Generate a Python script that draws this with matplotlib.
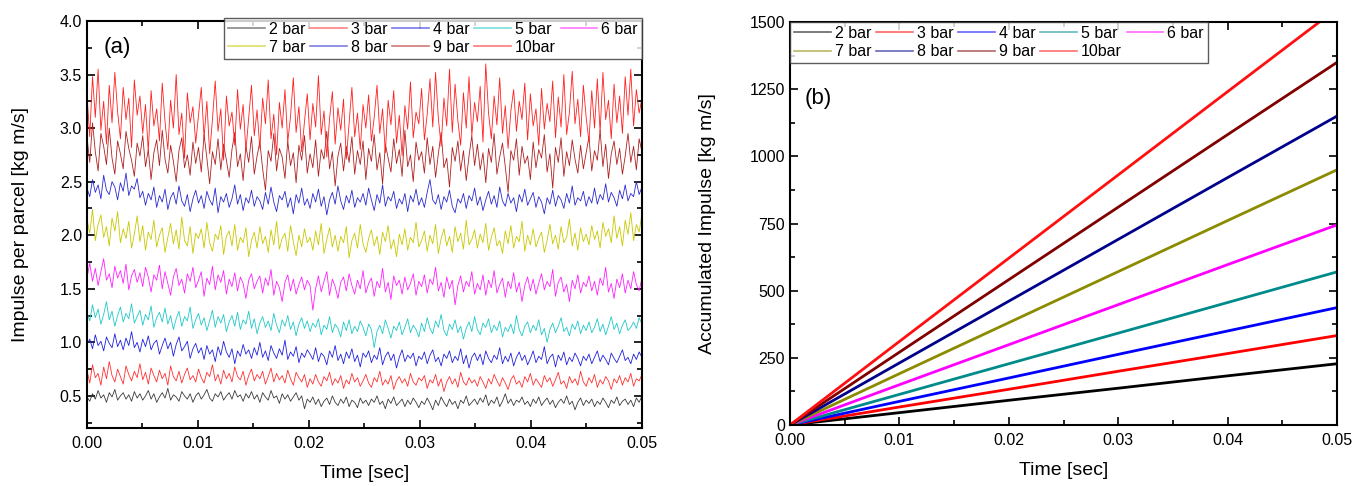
import numpy as np
import matplotlib
matplotlib.use("Agg")
import matplotlib.pyplot as plt
from matplotlib.ticker import MultipleLocator, FormatStrFormatter

plt.rcParams["font.family"] = ["Liberation Sans", "DejaVu Sans"]

# ---------- data ----------
labels = ["2 bar", "3 bar", "4 bar", "5 bar", "6 bar", "7 bar", "8 bar", "9 bar", "10bar"]
colors_a = ["#3a3a3a", "#ff3030", "#2020e0", "#20c8c8", "#ff20ff",
            "#c8c800", "#2a2ad0", "#b02020", "#ff2020"]
colors_b = ["#000000", "#ff0000", "#0000ff", "#008b8b", "#ff00ff",
            "#8b8b00", "#00008b", "#800000", "#ff1010"]

# (a) impulse per parcel, sampled evenly over 0..0.05 s
imp_2 = [0.49,0.45,0.52,0.47,0.55,0.48,0.51,0.44,0.53,0.49,0.56,0.46,0.50,0.53,0.47,0.51,0.45,0.54,0.48,0.52,
         0.46,0.50,0.55,0.47,0.52,0.44,0.49,0.53,0.48,0.57,0.46,0.51,0.49,0.45,0.54,0.50,0.47,0.52,0.44,0.50,
         0.53,0.47,0.51,0.56,0.48,0.45,0.52,0.49,0.54,0.46,0.50,0.53,0.47,0.55,0.49,0.51,0.45,0.52,0.48,0.54,
         0.47,0.51,0.44,0.53,0.49,0.46,0.55,0.48,0.50,0.43,0.52,0.47,0.51,0.45,0.49,0.53,0.46,0.50,0.38,0.47,
         0.44,0.49,0.42,0.47,0.40,0.45,0.48,0.42,0.50,0.44,0.41,0.47,0.43,0.49,0.40,0.46,0.44,0.39,0.48,0.43,
         0.46,0.41,0.47,0.44,0.50,0.42,0.45,0.38,0.47,0.43,0.49,0.41,0.44,0.47,0.40,0.46,0.42,0.48,0.44,0.39,
         0.45,0.42,0.48,0.43,0.37,0.46,0.41,0.49,0.44,0.40,0.47,0.42,0.45,0.38,0.46,0.43,0.50,0.41,0.44,0.47,
         0.42,0.48,0.44,0.51,0.41,0.46,0.43,0.49,0.40,0.45,0.52,0.43,0.47,0.41,0.46,0.44,0.49,0.42,0.45,0.40,
         0.47,0.43,0.49,0.41,0.45,0.48,0.42,0.46,0.39,0.44,0.47,0.43,0.50,0.42,0.45,0.37,0.44,0.48,0.41,0.46,
         0.43,0.47,0.40,0.45,0.42,0.48,0.44,0.39,0.46,0.43,0.49,0.41,0.45,0.47,0.42,0.46,0.40,0.48,0.44,0.50]
imp_3 = [0.74,0.62,0.79,0.67,0.71,0.60,0.77,0.66,0.82,0.69,0.63,0.75,0.68,0.61,0.78,0.70,0.64,0.73,0.67,0.80,
         0.65,0.72,0.61,0.76,0.69,0.63,0.74,0.66,0.71,0.60,0.78,0.68,0.64,0.73,0.62,0.70,0.76,0.65,0.69,0.63,
         0.75,0.67,0.62,0.72,0.68,0.79,0.64,0.70,0.61,0.74,0.66,0.71,0.63,0.77,0.68,0.65,0.73,0.60,0.69,0.75,
         0.64,0.70,0.66,0.73,0.61,0.68,0.76,0.63,0.71,0.65,0.69,0.62,0.74,0.66,0.60,0.72,0.67,0.63,0.70,0.58,
         0.66,0.61,0.70,0.63,0.59,0.68,0.64,0.72,0.60,0.66,0.62,0.69,0.57,0.65,0.61,0.71,0.63,0.67,0.59,0.64,
         0.70,0.62,0.58,0.67,0.63,0.73,0.60,0.65,0.61,0.69,0.56,0.64,0.68,0.62,0.66,0.59,0.71,0.63,0.60,0.67,
         0.64,0.69,0.57,0.65,0.62,0.70,0.59,0.66,0.54,0.63,0.68,0.61,0.66,0.58,0.72,0.63,0.60,0.67,0.62,0.65,
         0.59,0.68,0.63,0.57,0.66,0.61,0.70,0.64,0.59,0.67,0.62,0.56,0.65,0.69,0.61,0.64,0.58,0.68,0.63,0.71,
         0.60,0.66,0.62,0.58,0.69,0.63,0.67,0.59,0.65,0.72,0.61,0.64,0.57,0.68,0.62,0.66,0.60,0.73,0.63,0.59,
         0.67,0.62,0.70,0.58,0.65,0.61,0.68,0.64,0.56,0.66,0.62,0.69,0.60,0.67,0.63,0.71,0.59,0.66,0.64,0.70]
imp_4 = [0.98,1.03,0.94,1.07,0.97,1.01,0.92,1.05,0.99,0.95,1.08,0.96,1.02,0.93,1.04,0.97,1.10,0.95,1.00,0.91,
         1.03,0.96,1.06,0.93,0.99,1.02,0.89,0.97,1.04,0.94,1.00,0.87,0.98,1.05,0.92,0.96,1.01,0.85,0.94,0.99,
         0.90,0.95,0.84,0.97,0.89,0.93,0.82,0.96,0.88,1.01,0.91,0.86,0.94,0.80,0.92,0.87,0.98,0.89,0.93,0.85,
         0.95,0.88,1.00,0.86,0.92,0.83,0.97,0.90,0.85,0.94,0.88,1.02,0.84,0.91,0.87,0.96,0.81,0.90,0.86,0.93,
         0.89,0.84,0.95,0.82,0.90,0.87,0.79,0.92,0.86,0.97,0.83,0.89,0.80,0.91,0.85,0.94,0.82,0.88,0.77,0.90,
         0.86,0.92,0.81,0.88,0.84,0.95,0.79,0.87,0.91,0.83,0.89,0.76,0.86,0.93,0.82,0.88,0.85,0.90,0.78,0.87,
         0.84,0.91,0.80,0.88,0.93,0.82,0.86,0.78,0.89,0.85,0.92,0.81,0.87,0.83,0.94,0.80,0.88,0.76,0.86,0.90,
         0.83,0.89,0.79,0.92,0.85,0.81,0.88,0.84,0.95,0.80,0.87,0.82,0.90,0.78,0.86,0.91,0.83,0.88,0.79,0.85,
         0.92,0.81,0.87,0.84,0.96,0.80,0.86,0.89,0.77,0.88,0.83,0.91,0.79,0.86,0.82,0.90,0.85,0.78,0.87,0.83,
         0.89,0.80,0.86,0.92,0.82,0.88,0.84,0.79,0.90,0.85,0.81,0.87,0.93,0.83,0.86,0.80,0.89,0.84,0.91,0.86]
imp_5 = [1.28,1.20,1.35,1.23,1.31,1.17,1.26,1.38,1.21,1.29,1.15,1.25,1.33,1.19,1.27,1.22,1.36,1.18,1.24,1.30,
         1.16,1.26,1.21,1.34,1.14,1.23,1.28,1.19,1.32,1.17,1.25,1.12,1.22,1.29,1.15,1.24,1.20,1.33,1.13,1.21,
         1.27,1.16,1.23,1.11,1.20,1.30,1.14,1.24,1.18,1.26,1.10,1.19,1.25,1.15,1.28,1.12,1.21,1.17,1.29,1.13,
         1.22,1.08,1.18,1.24,1.14,1.20,1.11,1.27,1.16,1.09,1.21,1.15,1.25,1.12,1.19,1.06,1.17,1.23,1.13,1.20,
         1.10,1.18,1.14,1.22,1.07,1.16,1.12,1.24,1.09,1.17,1.13,1.05,1.19,1.11,1.21,1.08,1.15,1.10,1.20,1.14,
         1.06,1.17,1.12,0.95,1.10,1.16,1.08,1.21,1.13,1.04,1.15,1.11,1.19,1.07,1.14,1.22,1.09,1.16,1.12,1.05,
         1.18,1.10,1.23,1.13,1.08,1.20,1.14,1.26,1.11,1.06,1.17,1.12,1.21,1.09,1.15,1.03,1.13,1.19,1.10,1.24,
         1.12,1.07,1.18,1.14,1.22,1.09,1.16,1.11,1.20,1.05,1.14,1.10,1.17,1.08,1.25,1.12,1.06,1.15,1.19,1.09,
         1.16,1.11,1.21,1.07,1.13,1.00,1.12,1.18,1.09,1.15,1.23,1.10,1.14,1.06,1.17,1.12,1.20,1.08,1.16,1.11,
         1.19,1.09,1.14,1.22,1.10,1.17,1.07,1.15,1.24,1.12,1.18,1.08,1.16,1.21,1.11,1.14,1.19,1.13,1.23,1.17]
imp_6 = [1.60,1.74,1.57,1.69,1.53,1.66,1.78,1.58,1.64,1.51,1.71,1.60,1.67,1.55,1.73,1.49,1.62,1.68,1.56,1.65,
         1.52,1.70,1.61,1.47,1.63,1.58,1.72,1.50,1.66,1.55,1.44,1.61,1.69,1.53,1.59,1.46,1.64,1.57,1.70,1.51,
         1.58,1.66,1.43,1.60,1.54,1.71,1.49,1.63,1.56,1.67,1.45,1.59,1.52,1.65,1.48,1.61,1.55,1.41,1.58,1.64,
         1.50,1.57,1.62,1.46,1.60,1.53,1.68,1.44,1.57,1.51,1.38,1.56,1.63,1.48,1.59,1.45,1.54,1.61,1.49,1.58,
         1.53,1.30,1.50,1.62,1.47,1.57,1.66,1.44,1.59,1.52,1.41,1.56,1.61,1.48,1.64,1.53,1.45,1.58,1.50,1.67,
         1.46,1.55,1.60,1.43,1.57,1.51,1.69,1.47,1.56,1.40,1.62,1.53,1.58,1.45,1.61,1.49,1.55,1.64,1.44,1.57,
         1.52,1.63,1.46,1.59,1.54,1.70,1.48,1.56,1.42,1.61,1.50,1.58,1.35,1.53,1.62,1.47,1.57,1.52,1.66,1.45,
         1.55,1.49,1.63,1.44,1.58,1.51,1.67,1.46,1.54,1.60,1.42,1.57,1.50,1.65,1.47,1.56,1.38,1.53,1.61,1.48,
         1.59,1.45,1.55,1.64,1.49,1.57,1.52,1.68,1.43,1.56,1.61,1.47,1.54,1.38,1.58,1.50,1.63,1.46,1.56,1.52,
         1.62,1.48,1.57,1.44,1.60,1.53,1.70,1.47,1.55,1.41,1.59,1.51,1.64,1.46,1.58,1.50,1.66,1.54,1.48,1.60]
imp_7 = [2.15,2.02,2.24,1.95,2.10,2.19,1.98,2.08,1.90,2.16,2.04,2.22,1.93,2.06,1.97,2.13,1.88,2.01,2.18,1.94,
         2.09,1.86,2.03,1.96,2.14,1.89,2.00,2.07,1.84,1.98,2.11,1.92,2.05,1.87,2.17,1.95,1.90,2.08,1.83,2.02,
         1.97,2.06,1.88,2.12,1.93,1.85,2.01,1.96,2.09,1.82,1.99,2.04,1.90,2.10,1.86,1.98,1.93,2.07,1.80,1.95,
         2.03,1.88,2.08,1.92,1.99,1.84,2.05,1.91,2.13,1.87,1.97,2.02,1.85,2.09,1.94,1.81,2.00,1.89,2.06,1.93,
         1.98,1.86,2.04,1.91,2.11,1.83,1.96,2.07,1.89,2.00,1.85,1.99,1.93,2.08,1.79,1.95,2.02,1.88,2.10,1.92,
         1.84,1.97,2.05,1.90,1.99,1.82,2.03,1.94,2.09,1.87,1.96,1.80,2.01,1.91,2.06,1.86,1.98,1.93,2.12,1.89,
         1.95,2.04,1.85,2.00,1.92,2.10,1.83,1.97,2.06,1.90,1.99,1.84,2.08,1.94,2.02,1.87,2.14,1.91,1.96,2.05,
         1.88,2.01,1.93,2.11,1.86,1.98,2.07,1.90,1.95,1.83,2.04,1.92,2.09,1.88,1.99,1.94,2.13,1.85,2.00,1.91,
         2.06,1.89,1.97,2.03,1.84,1.95,2.10,1.92,2.00,1.87,2.08,1.93,1.98,2.15,1.90,2.02,1.86,2.07,1.94,2.01,
         1.91,2.09,1.96,2.04,1.88,2.12,1.99,2.06,1.93,2.18,1.97,2.08,1.90,2.14,2.01,2.21,1.95,2.10,2.03,2.20]
imp_8 = [2.44,2.36,2.52,2.40,2.47,2.34,2.56,2.42,2.38,2.50,2.45,2.33,2.49,2.41,2.58,2.37,2.46,2.43,2.53,2.35,
         2.41,2.28,2.39,2.33,2.45,2.26,2.37,2.31,2.43,2.24,2.35,2.40,2.29,2.46,2.32,2.27,2.38,2.22,2.34,2.42,
         2.30,2.37,2.25,2.41,2.33,2.28,2.44,2.21,2.36,2.31,2.39,2.26,2.34,2.47,2.29,2.38,2.23,2.35,2.30,2.42,
         2.27,2.36,2.32,2.24,2.40,2.29,2.45,2.31,2.22,2.37,2.33,2.41,2.26,2.35,2.20,2.38,2.30,2.44,2.28,2.34,
         2.25,2.39,2.31,2.43,2.27,2.36,2.19,2.33,2.40,2.29,2.46,2.32,2.24,2.37,2.30,2.42,2.26,2.35,2.31,2.39,
         2.28,2.44,2.33,2.23,2.38,2.30,2.47,2.27,2.36,2.32,2.41,2.25,2.34,2.29,2.39,2.22,2.37,2.31,2.43,2.28,
         2.35,2.26,2.40,2.52,2.33,2.29,2.38,2.24,2.36,2.31,2.42,2.27,2.21,2.34,2.30,2.39,2.25,2.37,2.32,2.44,
         2.28,2.36,2.23,2.33,2.41,2.29,2.37,2.26,2.45,2.32,2.27,2.39,2.30,2.35,2.22,2.38,2.31,2.43,2.28,2.34,
         2.40,2.26,2.36,2.31,2.20,2.35,2.29,2.42,2.27,2.37,2.33,2.25,2.39,2.30,2.46,2.28,2.35,2.32,2.41,2.27,
         2.36,2.30,2.44,2.29,2.38,2.33,2.48,2.31,2.40,2.35,2.27,2.42,2.34,2.47,2.32,2.39,2.36,2.50,2.38,2.45]
imp_9 = [2.92,2.68,3.05,2.78,2.60,2.95,2.83,2.66,3.00,2.72,2.57,2.88,2.76,2.62,2.97,2.81,2.70,2.55,2.86,2.74,
         2.93,2.64,2.80,2.52,2.77,2.89,2.65,2.98,2.71,2.58,2.84,2.69,2.50,2.79,2.91,2.63,2.75,2.56,2.87,2.67,
         2.82,2.59,2.94,2.72,2.48,2.78,2.66,2.90,2.61,2.85,2.70,2.54,2.80,2.96,2.64,2.76,2.51,2.83,2.68,2.92,
         2.57,2.74,2.87,2.62,2.42,2.79,2.69,2.95,2.60,2.81,2.73,2.53,2.88,2.65,2.77,2.49,2.84,2.70,2.93,2.58,
         2.76,2.63,2.89,2.55,2.80,2.71,2.97,2.62,2.78,2.46,2.74,2.86,2.60,2.83,2.68,2.92,2.57,2.79,2.66,2.88,
         2.52,2.81,2.69,2.94,2.61,2.77,2.48,2.85,2.72,2.59,2.90,2.67,2.80,2.55,2.98,2.64,2.75,2.50,2.87,2.70,
         2.78,2.58,2.91,2.66,2.83,2.54,2.76,2.96,2.63,2.72,2.45,2.82,2.69,2.88,2.60,2.79,2.51,2.74,2.93,2.65,
         2.85,2.61,2.77,2.49,2.81,2.68,2.95,2.57,2.73,2.86,2.64,2.40,2.79,2.70,2.90,2.56,2.83,2.67,2.74,2.52,
         2.87,2.63,2.80,2.72,2.94,2.59,2.76,2.44,2.82,2.68,2.91,2.55,2.78,2.65,2.89,2.71,2.58,2.84,2.62,2.77,
         2.92,2.60,2.79,2.70,2.98,2.64,2.85,2.53,2.76,2.88,2.66,2.81,2.57,2.74,2.95,2.68,2.83,2.61,2.90,2.78]
imp_10 = [3.32,2.92,3.48,3.10,3.55,2.98,3.25,2.85,3.40,3.05,3.52,3.15,2.90,3.38,3.08,3.28,2.82,3.45,3.12,3.30,
          2.95,3.22,2.78,3.35,3.02,3.18,2.88,3.42,3.06,2.80,3.26,3.00,3.50,2.94,3.14,2.72,3.33,3.05,3.20,2.86,
          3.12,3.38,2.91,3.25,2.76,3.08,3.44,2.97,3.18,2.70,3.30,3.02,3.15,2.84,3.36,2.99,3.22,2.79,3.10,3.40,
          2.93,3.17,2.81,3.28,3.04,3.45,2.90,3.13,2.75,3.24,3.00,3.36,2.87,3.11,3.47,2.96,3.20,2.78,3.06,3.32,
          2.89,3.23,3.01,3.49,2.94,3.16,2.73,3.09,3.34,2.85,3.19,2.98,3.27,2.71,3.05,3.38,2.92,3.14,2.80,3.22,
          3.00,3.31,2.88,3.10,3.40,2.95,3.18,2.77,3.26,3.03,3.35,2.86,3.12,2.74,3.21,2.99,3.43,2.91,3.15,3.04,
          3.37,2.89,3.13,3.46,3.01,3.52,3.09,2.83,3.28,3.02,3.55,2.96,3.41,3.07,2.84,3.33,3.00,3.48,2.93,3.24,
          3.06,3.39,2.87,3.60,3.14,2.90,3.30,3.03,3.47,2.95,3.21,2.81,3.16,3.36,2.97,3.25,3.08,3.42,2.89,3.32,
          3.02,3.18,2.84,3.37,2.99,3.23,3.06,3.44,2.91,3.29,3.01,3.50,2.94,3.15,3.53,3.04,3.27,2.92,3.40,3.10,
          2.87,3.35,3.00,3.46,2.96,3.52,3.08,3.26,2.90,3.41,3.05,3.30,2.95,3.48,3.12,3.55,3.02,3.36,3.14,3.28]
impulse = [imp_2, imp_3, imp_4, imp_5, imp_6, imp_7, imp_8, imp_9, imp_10]

# (b) accumulated impulse
t_b = [0.0, 0.01, 0.02, 0.03, 0.04, 0.05]
acc_2 = [0, 46, 92, 137, 183, 228]
acc_3 = [0, 67, 133, 200, 266, 333]
acc_4 = [0, 88, 175, 263, 350, 437]
acc_5 = [0, 114, 228, 342, 456, 570]
acc_6 = [0, 150, 299, 448, 597, 745]
acc_7 = [0, 191, 381, 571, 761, 950]
acc_8 = [0, 231, 461, 691, 921, 1150]
acc_9 = [0, 271, 541, 811, 1081, 1350]
acc_10 = [0, 311, 621, 931, 1241, 1550]
accum = [acc_2, acc_3, acc_4, acc_5, acc_6, acc_7, acc_8, acc_9, acc_10]

# legend fills column-wise; reorder so rows read 2..6 / 7..10
leg_order = [0, 5, 1, 6, 2, 7, 3, 8, 4]


def style_axes(ax):
    ax.tick_params(which="both", direction="in", top=True, right=True,
                   labelsize=11.5, width=1.2)
    ax.tick_params(which="major", length=6)
    ax.tick_params(which="minor", length=3.5)
    ax.tick_params(axis="x", pad=6)
    for s in ax.spines.values():
        s.set_linewidth(1.5)
    ax.xaxis.set_major_locator(MultipleLocator(0.01))
    ax.xaxis.set_minor_locator(MultipleLocator(0.005))
    ax.xaxis.set_major_formatter(FormatStrFormatter("%.2f"))
    ax.set_xlim(0, 0.05)
    ax.set_xlabel("Time [sec]", fontsize=14, labelpad=10)


def add_legend(ax, lines, loc, anchor):
    h = [lines[i] for i in leg_order]
    l = [labels[i] for i in leg_order]
    leg = ax.legend(h, l, ncol=5, loc=loc, bbox_to_anchor=anchor,
                    fontsize=11.5, frameon=True, fancybox=False,
                    handlelength=2.3, handletextpad=0.25, columnspacing=0.3,
                    labelspacing=0.2, borderpad=0.25, borderaxespad=0)
    leg.get_frame().set_edgecolor("#333333")
    leg.get_frame().set_linewidth(1.0)
    for ln in leg.get_lines():
        ln.set_linewidth(1.2)
        ln.set_alpha(0.6)


fig = plt.figure(figsize=(13.67, 4.86), dpi=100)
ax1 = fig.add_axes([0.0636, 0.1193, 0.4060, 0.8375])
ax2 = fig.add_axes([0.5779, 0.1255, 0.4002, 0.8292])

# ---- (a)
lines_a = []
for y, c in zip(impulse, colors_a):
    t = np.linspace(0, 0.05, len(y))
    ln, = ax1.plot(t, y, color=c, lw=0.6)
    lines_a.append(ln)
style_axes(ax1)
ax1.set_ylim(0.2, 4.0)
ax1.yaxis.set_major_locator(MultipleLocator(0.5))
ax1.yaxis.set_minor_locator(MultipleLocator(0.25))
ax1.yaxis.set_major_formatter(FormatStrFormatter("%.1f"))
ax1.set_ylabel("Impulse per parcel [kg m/s]", fontsize=14, labelpad=22)
ax1.text(0.03, 0.935, "(a)", transform=ax1.transAxes, fontsize=16,
         va="center", ha="left")
add_legend(ax1, lines_a, "upper right", (1.0, 1.008))

# ---- (b)
lines_b = []
for y, c in zip(accum, colors_b):
    ln, = ax2.plot(t_b, y, color=c, lw=2.0)
    lines_b.append(ln)
style_axes(ax2)
ax2.set_ylim(0, 1500)
ax2.yaxis.set_major_locator(MultipleLocator(250))
ax2.yaxis.set_minor_locator(MultipleLocator(125))
ax2.set_ylabel("Accumulated Impulse [kg m/s]", fontsize=14, labelpad=24)
ax2.text(0.027, 0.81, "(b)", transform=ax2.transAxes, fontsize=16,
         va="center", ha="left")
add_legend(ax2, lines_b, "upper left", (0.0, 1.0))

fig.savefig("out.png", dpi=100)
